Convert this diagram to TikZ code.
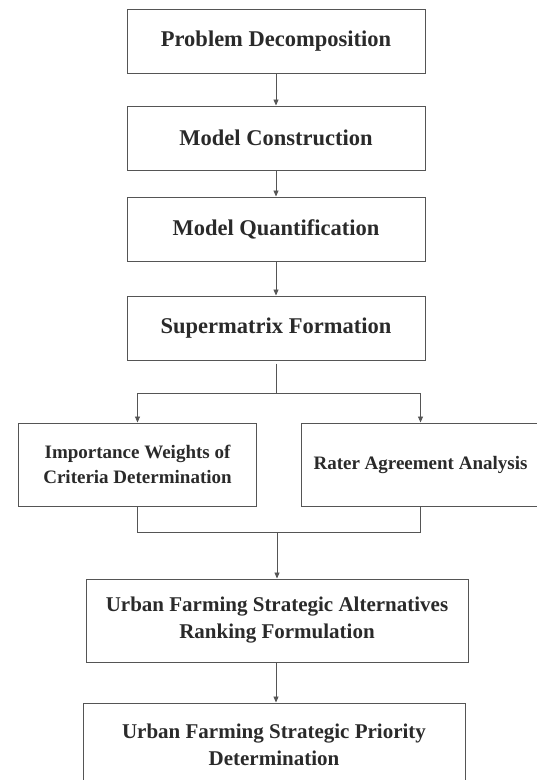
\documentclass[tikz,border=0pt]{standalone}
\usepackage{fontspec}
\setmainfont{Liberation Serif}
\usetikzlibrary{arrows.meta, positioning, calc}
\definecolor{boxgray}{HTML}{555555}
\definecolor{txtgray}{HTML}{2A2A2A}

\begin{document}
\begin{tikzpicture}[x=1pt, y=1pt,
    node distance=30pt and 44pt,
    stepbox/.style={rectangle, draw=boxgray, line width=1pt,
                minimum width=298pt, minimum height=64pt,
                text centered, align=center, text=txtgray,
                font=\fontsize{22.5}{27}\selectfont\bfseries},
    sidebox/.style={stepbox, minimum width=238pt, minimum height=83pt,
                font=\fontsize{19}{25}\selectfont\bfseries},
    widebox/.style={stepbox, minimum width=382pt, minimum height=83pt,
                font=\fontsize{21}{27}\selectfont\bfseries},
    link/.style={draw=boxgray, line width=0.9pt},
    arr/.style={link, -{Triangle[length=6pt, width=5pt]}}
  ]
  \useasboundingbox (0,0) rectangle (537,-780);

  \node[stepbox] (pdec) at (276,-41) {Problem Decomposition};
  \node[stepbox, below=32pt of pdec] (mcon) {Model Construction};
  \node[stepbox, below=26pt of mcon] (mqua) {Model Quantification};
  \node[stepbox, below=34pt of mqua] (smat) {Supermatrix Formation};

  \node[sidebox] (iwcd) at (137.5,-464.5) {Importance Weights of\\ Criteria Determination};
  \node[sidebox, right=44pt of iwcd] (raan) {Rater Agreement Analysis};

  \node[widebox] (ufar) at (277,-620.5) {Urban Farming Strategic Alternatives\\ Ranking Formulation};
  \node[widebox, below=40pt of ufar, xshift=-3pt] (ufsp) {Urban Farming Strategic Priority\\ Determination};

  \draw[arr] (pdec) -- (mcon);
  \draw[arr] (mcon) -- (mqua);
  \draw[arr] (mqua) -- (smat);

  % split into the two analyses
  \coordinate (split) at ($(smat.south)+(0,-33pt)$);
  \draw[link] ([yshift=-3pt]smat.south) -- (split);
  \draw[arr] (split) -| (iwcd.north);
  \draw[arr] (split) -| (raan.north);

  % join back
  \coordinate (join) at ($(ufar.north)+(0,46pt)$);
  \draw[link] (iwcd.south) -- (iwcd.south |- join) -- (raan.south |- join) -- (raan.south);
  \draw[arr] (join) -- (ufar.north);

  \draw[arr] ([xshift=-1pt]ufar.south) -- ([xshift=-1pt]ufar.south |- ufsp.north);
\end{tikzpicture}
\end{document}
